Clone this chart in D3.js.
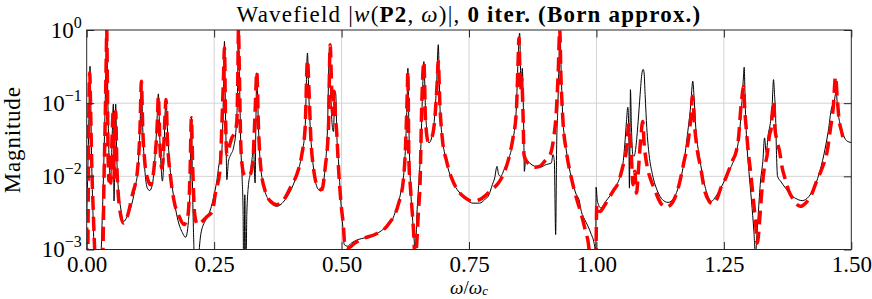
<!DOCTYPE html>
<html lang="en">
<head>
<meta charset="UTF-8">
<title>Wavefield |w(P2, ω)|, 0 iter. (Born approx.)</title>
<style>
  body { margin: 0; padding: 0; background: #fff; }
  svg { display: block; font-family: "Liberation Serif", "DejaVu Serif", serif; }
  .grid line { stroke: #d4d4d4; stroke-width: 1; }
  .axis .domain { display: none; }
  .axis line { stroke: #262626; stroke-width: 1; }
  .axis text { font-size: 23px; fill: #000; font-family: "Liberation Serif", serif; }
</style>
</head>
<body>
<script src="https://d3js.org/d3.v7.min.js"></script>
<script>
// tick values
const xTicks = [0, 0.25, 0.5, 0.75, 1.0, 1.25, 1.5];
const yTicks = [1e-3, 1e-2, 1e-1, 1];

// exact wavefield (black), omega / omega_c and magnitude
const omegaExact = [
  0.000, 0.0033, 0.0052, 0.0065, 0.0078, 0.0092, 0.0124, 0.0157, 0.0275, 0.0307,
  0.0340, 0.0373, 0.0392, 0.0419, 0.0445, 0.0471, 0.0497, 0.0523, 0.0536, 0.0556,
  0.0569, 0.0589, 0.0615, 0.0667, 0.0719, 0.0798, 0.0863, 0.0961, 0.1007, 0.1046,
  0.1073, 0.1099, 0.1138, 0.1190, 0.1236, 0.1288, 0.1334, 0.1373, 0.1406, 0.1432,
  0.1465, 0.1485, 0.1511, 0.1537, 0.1557, 0.1583, 0.1635, 0.1700, 0.1779, 0.1877,
  0.1942, 0.1995, 0.2027, 0.2054, 0.2073, 0.2093, 0.2112, 0.2184, 0.2237, 0.2335,
  0.2433, 0.2487, 0.2552, 0.2605, 0.2637, 0.2657, 0.2683, 0.2703, 0.2722, 0.2735,
  0.2749, 0.2781, 0.2827, 0.2879, 0.2932, 0.2958, 0.2977, 0.2997, 0.3023, 0.3049,
  0.3069, 0.3076, 0.3089, 0.3102, 0.3115, 0.3128, 0.3141, 0.3174, 0.3206, 0.3239,
  0.3272, 0.3304, 0.3318, 0.3337, 0.3370, 0.3403, 0.3468, 0.3566, 0.3730, 0.3893,
  0.4024, 0.4122, 0.4220, 0.4285, 0.4331, 0.4357, 0.4397, 0.4449, 0.4527, 0.4593,
  0.4678, 0.4724, 0.4763, 0.4789, 0.4815, 0.4841, 0.4868, 0.4887, 0.4907, 0.4940,
  0.4985, 0.5025, 0.5052, 0.5118, 0.5196, 0.5327, 0.5458, 0.5589, 0.5719, 0.5850,
  0.5981, 0.6079, 0.6177, 0.6230, 0.6262, 0.6288, 0.6301, 0.6321, 0.6347, 0.6387,
  0.6426, 0.6445, 0.6478, 0.6517, 0.6557, 0.6583, 0.6615, 0.6648, 0.6674, 0.6714,
  0.6766, 0.6818, 0.6864, 0.6897, 0.6929, 0.6975, 0.7027, 0.7106, 0.7191, 0.7289,
  0.7387, 0.7485, 0.7578, 0.7709, 0.7807, 0.7892, 0.7958, 0.8004, 0.8049, 0.8082,
  0.8121, 0.8200, 0.8285, 0.8350, 0.8396, 0.8429, 0.8461, 0.8494, 0.8520, 0.8546,
  0.8573, 0.8586, 0.8612, 0.8690, 0.8788, 0.8887, 0.9017, 0.9115, 0.9148, 0.9174,
  0.9200, 0.9220, 0.9240, 0.9266, 0.9285, 0.9312, 0.9344, 0.9377, 0.9442, 0.9527,
  0.9606, 0.9658, 0.9704, 0.9769, 0.9835, 0.9900, 0.9946, 0.9965, 0.9987, 0.9993,
  1.0020, 1.0085, 1.0183, 1.0281, 1.0379, 1.0445, 1.0510, 1.0556, 1.0589, 1.0615,
  1.0634, 1.0647, 1.0660, 1.0667, 1.0687, 1.0713, 1.0739, 1.0772, 1.0818, 1.0857,
  1.0889, 1.0916, 1.0935, 1.0955, 1.0988, 1.1033, 1.1099, 1.1197, 1.1295, 1.1406,
  1.1524, 1.1622, 1.1720, 1.1785, 1.1851, 1.1890, 1.1916, 1.1949, 1.2014, 1.2080,
  1.2178, 1.2256, 1.2341, 1.2439, 1.2538, 1.2631, 1.2729, 1.2794, 1.2847, 1.2879,
  1.2899, 1.2919, 1.2945, 1.2991, 1.3043, 1.3089, 1.3121, 1.3141, 1.3174, 1.3219,
  1.3265, 1.3298, 1.3331, 1.3370, 1.3416, 1.3448, 1.3474, 1.3494, 1.3514, 1.3533,
  1.3553, 1.3612, 1.3710, 1.3808, 1.3906, 1.4037, 1.4168, 1.4266, 1.4364, 1.4462,
  1.4547, 1.4613, 1.4659, 1.4704, 1.4730, 1.4769, 1.4822, 1.4887, 1.4953, 1.5000
];
const magExact = [
  0.0030, 0.027, 0.13, 0.32, 0.13, 0.027, 0.0030, 0.0008, 0.0008, 0.0030,
  0.0198, 0.22, 0.98, 0.077, 0.013, 0.0095, 0.030, 0.097, 0.0046, 0.046,
  0.097, 0.0198, 0.0077, 0.0037, 0.0024, 0.00285, 0.0037, 0.0077, 0.013, 0.046,
  0.19, 0.046, 0.013, 0.0069, 0.0064, 0.0077, 0.016, 0.046, 0.134, 0.037,
  0.0117, 0.0086, 0.016, 0.070, 0.112, 0.046, 0.013, 0.0056, 0.0027, 0.0017,
  0.00147, 0.0024, 0.0069, 0.064, 0.0095, 0.0020, 0.0008, 0.0008, 0.0016, 0.00256,
  0.0036, 0.0051, 0.0086, 0.0152, 0.0161, 0.027, 0.131, 0.70, 0.077, 0.027,
  0.0090, 0.0161, 0.0198, 0.0244, 0.046, 0.131, 0.98, 0.22, 0.027, 0.0095,
  0.0030, 0.0008, 0.0008, 0.0056, 0.0008, 0.0008, 0.0030, 0.0077, 0.0106, 0.0161,
  0.0239, 0.0081, 0.046, 0.26, 0.046, 0.0161, 0.0077, 0.0048, 0.0039, 0.0048,
  0.0069, 0.0106, 0.0198, 0.046, 0.485, 0.131, 0.0335, 0.013, 0.0069, 0.0063,
  0.013, 0.046, 0.57, 0.131, 0.051, 0.041, 0.145, 0.131, 0.037, 0.0161,
  0.0046, 0.0020, 0.00117, 0.00111, 0.00123, 0.00137, 0.00144, 0.00152, 0.00169, 0.00197,
  0.00243, 0.0037, 0.0069, 0.013, 0.0335, 0.131, 0.30, 0.046, 0.0095, 0.0030,
  0.0013, 0.0008, 0.0030, 0.0086, 0.027, 0.106, 0.37, 0.077, 0.041, 0.0286,
  0.0335, 0.056, 0.18, 0.63, 0.095, 0.0335, 0.0198, 0.0117, 0.0081, 0.0063,
  0.0053, 0.0046, 0.0043, 0.0043, 0.0048, 0.0056, 0.0077, 0.0095, 0.0137, 0.0106,
  0.0100, 0.013, 0.0178, 0.027, 0.046, 0.086, 0.37, 0.91, 0.161, 0.30,
  0.046, 0.0117, 0.0169, 0.0152, 0.0137, 0.0133, 0.0145, 0.0152, 0.0198, 0.0161,
  0.0016, 0.027, 0.077, 0.37, 0.96, 0.22, 0.056, 0.0335, 0.0161, 0.0086,
  0.0056, 0.0048, 0.0033, 0.00256, 0.00208, 0.0016, 0.0013, 0.00111, 0.0009, 0.0071,
  0.00456, 0.0037, 0.00456, 0.0056, 0.0073, 0.0090, 0.013, 0.027, 0.056, 0.088,
  0.046, 0.0069, 0.046, 0.153, 0.046, 0.0198, 0.0188, 0.0244, 0.056, 0.131,
  0.245, 0.29, 0.26, 0.131, 0.046, 0.0198, 0.0106, 0.0063, 0.0048, 0.0044,
  0.0051, 0.0077, 0.0161, 0.037, 0.095, 0.20, 0.118, 0.046, 0.0198, 0.0106,
  0.0056, 0.00456, 0.0053, 0.0069, 0.0095, 0.013, 0.0198, 0.0335, 0.086, 0.20,
  0.31, 0.095, 0.0335, 0.0117, 0.00456, 0.00178, 0.0008, 0.0013, 0.0030, 0.0086,
  0.0161, 0.0335, 0.021, 0.037, 0.056, 0.095, 0.21, 0.131, 0.070, 0.0198,
  0.0100, 0.0086, 0.0069, 0.0056, 0.0050, 0.00466, 0.0053, 0.0069, 0.0106, 0.0198,
  0.041, 0.086, 0.100, 0.145, 0.086, 0.056, 0.041, 0.0318, 0.0295, 0.029
];

// Born approximation (red dashed)
const omegaBorn = [
  0.000, 0.0020, 0.0039, 0.0059, 0.0078, 0.0098, 0.0131, 0.0170, 0.0314, 0.0340,
  0.0366, 0.0386, 0.0392, 0.0405, 0.0419, 0.0438, 0.0458, 0.0471, 0.0497, 0.0523,
  0.0536, 0.0556, 0.0569, 0.0589, 0.0608, 0.0641, 0.0719, 0.0798, 0.0896, 0.0994,
  0.1046, 0.1073, 0.1099, 0.1138, 0.1190, 0.1256, 0.1334, 0.1386, 0.1406, 0.1439,
  0.1471, 0.1504, 0.1537, 0.1557, 0.1583, 0.1648, 0.1714, 0.1812, 0.1910, 0.1988,
  0.2027, 0.2054, 0.2080, 0.2119, 0.2171, 0.2269, 0.2368, 0.2466, 0.2520, 0.2618,
  0.2650, 0.2683, 0.2703, 0.2722, 0.2749, 0.2788, 0.2847, 0.2912, 0.2945, 0.2964,
  0.2977, 0.2997, 0.3023, 0.3056, 0.3076, 0.3141, 0.3206, 0.3259, 0.3304, 0.3337,
  0.3370, 0.3416, 0.3501, 0.3599, 0.3730, 0.3893, 0.4024, 0.4122, 0.4220, 0.4285,
  0.4331, 0.4364, 0.4397, 0.4449, 0.4547, 0.4613, 0.4678, 0.4743, 0.4776, 0.4809,
  0.4828, 0.4854, 0.4874, 0.4907, 0.4940, 0.4985, 0.5038, 0.5065, 0.5131, 0.5262,
  0.5458, 0.5654, 0.5916, 0.6112, 0.6210, 0.6256, 0.6288, 0.6301, 0.6321, 0.6347,
  0.6380, 0.6412, 0.6439, 0.6478, 0.6504, 0.6543, 0.6570, 0.6615, 0.6648, 0.6700,
  0.6766, 0.6831, 0.6877, 0.6897, 0.6929, 0.6975, 0.7060, 0.7158, 0.7289, 0.7420,
  0.7564, 0.7709, 0.7840, 0.7919, 0.8102, 0.8200, 0.8298, 0.8363, 0.8429, 0.8461,
  0.8481, 0.8494, 0.8514, 0.8533, 0.8560, 0.8579, 0.8612, 0.8690, 0.8788, 0.8887,
  0.8985, 0.9070, 0.9115, 0.9161, 0.9213, 0.9253, 0.9279, 0.9305, 0.9344, 0.9410,
  0.9508, 0.9606, 0.9704, 0.9769, 0.9835, 0.9881, 0.9966, 0.9987, 1.0007, 1.0072,
  1.0150, 1.0249, 1.0347, 1.0412, 1.0477, 1.0543, 1.0576, 1.0608, 1.0634, 1.0660,
  1.0687, 1.0719, 1.0752, 1.0785, 1.0831, 1.0870, 1.0909, 1.0935, 1.0968, 1.1001,
  1.1066, 1.1131, 1.1262, 1.1360, 1.1458, 1.1622, 1.1720, 1.1799, 1.1851, 1.1884,
  1.1929, 1.1982, 1.2047, 1.2112, 1.2211, 1.2276, 1.2374, 1.2439, 1.2538, 1.2565,
  1.2664, 1.2742, 1.2794, 1.2827, 1.2860, 1.2886, 1.2912, 1.2938, 1.2977, 1.3023,
  1.3069, 1.3095, 1.3121, 1.3154, 1.3180, 1.3200, 1.3239, 1.3285, 1.3350, 1.3396,
  1.3429, 1.3448, 1.3481, 1.3501, 1.3546, 1.3592, 1.3645, 1.3697, 1.3775, 1.3841,
  1.3939, 1.4004, 1.4102, 1.4200, 1.4331, 1.4429, 1.4527, 1.4593, 1.4645, 1.4691,
  1.4724, 1.4756, 1.4809, 1.4855
];
const magBorn = [
  0.0020, 0.0008, 0.046, 0.26, 0.077, 0.0161, 0.0030, 0.0008, 0.0008, 0.0095,
  0.077, 0.57, 1.03, 0.22, 0.0198, 0.0086, 0.0117, 0.0081, 0.0335, 0.082,
  0.0095, 0.056, 0.077, 0.0161, 0.0077, 0.0039, 0.0023, 0.00285, 0.0056, 0.0117,
  0.046, 0.20, 0.046, 0.0161, 0.0095, 0.0077, 0.0161, 0.056, 0.124, 0.0244,
  0.013, 0.0198, 0.070, 0.112, 0.0335, 0.0095, 0.0046, 0.00285, 0.0022, 0.0030,
  0.0106, 0.063, 0.013, 0.0030, 0.0022, 0.00243, 0.00285, 0.0033, 0.0056, 0.013,
  0.046, 0.22, 0.57, 0.077, 0.0198, 0.0244, 0.0335, 0.041, 0.056, 0.22,
  1.03, 0.22, 0.027, 0.013, 0.011, 0.010, 0.0106, 0.0161, 0.077, 0.27,
  0.046, 0.013, 0.0063, 0.0046, 0.0041, 0.0051, 0.0077, 0.0106, 0.0198, 0.046,
  0.39, 0.131, 0.0335, 0.013, 0.0069, 0.0066, 0.013, 0.046, 0.63, 0.131,
  0.070, 0.145, 0.077, 0.037, 0.013, 0.0046, 0.0020, 0.0011, 0.00105, 0.00123,
  0.00144, 0.0016, 0.0022, 0.0041, 0.0086, 0.027, 0.131, 0.27, 0.0161, 0.0077,
  0.0037, 0.0018, 0.0008, 0.0013, 0.0030, 0.0095, 0.077, 0.37, 0.056, 0.030,
  0.0335, 0.063, 0.20, 0.37, 0.095, 0.0335, 0.0161, 0.0095, 0.0063, 0.0051,
  0.00456, 0.0048, 0.0056, 0.0063, 0.0086, 0.0117, 0.0198, 0.0335, 0.077, 0.34,
  0.78, 0.37, 0.145, 0.22, 0.070, 0.0198, 0.0169, 0.0145, 0.0133, 0.0137,
  0.0161, 0.0188, 0.022, 0.0335, 0.077, 0.30, 1.03, 0.22, 0.056, 0.022,
  0.0095, 0.0051, 0.0030, 0.0020, 0.0013, 0.0008, 0.0008, 0.0008, 0.0041, 0.0033,
  0.0039, 0.0051, 0.0066, 0.0077, 0.0106, 0.0161, 0.0198, 0.0335, 0.051, 0.0335,
  0.0178, 0.0077, 0.0117, 0.0059, 0.0145, 0.0335, 0.056, 0.0286, 0.0178, 0.013,
  0.0090, 0.0069, 0.0043, 0.0038, 0.0041, 0.0077, 0.0161, 0.030, 0.063, 0.124,
  0.046, 0.022, 0.013, 0.0069, 0.00456, 0.0042, 0.0051, 0.0069, 0.0095, 0.0106,
  0.0161, 0.022, 0.037, 0.077, 0.131, 0.17, 0.077, 0.046, 0.022, 0.0117,
  0.0056, 0.0037, 0.0024, 0.00123, 0.0016, 0.0024, 0.0056, 0.0117, 0.0198, 0.037,
  0.046, 0.070, 0.106, 0.046, 0.030, 0.022, 0.013, 0.0095, 0.0063, 0.0051,
  0.0041, 0.0039, 0.0043, 0.0053, 0.0090, 0.013, 0.022, 0.046, 0.086, 0.23,
  0.118, 0.063, 0.041, 0.030
];

const W = 872, H = 299;
const plot = { left: 86.7, right: 851.3, top: 30, bottom: 249.5 };

const svg = d3.select("body").append("svg")
  .attr("width", W)
  .attr("height", H);

const x = d3.scaleLinear().domain([0, 1.5]).range([plot.left, plot.right]);
const y = d3.scaleLog().domain([1e-3, 1]).range([plot.bottom, plot.top]);

// grid
const grid = svg.append("g").attr("class", "grid");
grid.selectAll(".gx").data(xTicks.slice(1, -1)).enter().append("line")
  .attr("x1", d => x(d)).attr("x2", d => x(d))
  .attr("y1", plot.top).attr("y2", plot.bottom);
grid.selectAll(".gy").data(yTicks.slice(1, -1)).enter().append("line")
  .attr("x1", plot.left).attr("x2", plot.right)
  .attr("y1", d => y(d)).attr("y2", d => y(d));

// curves, clipped to the axes box
svg.append("clipPath").attr("id", "clip")
  .append("rect")
  .attr("x", plot.left).attr("y", plot.top)
  .attr("width", plot.right - plot.left).attr("height", plot.bottom - plot.top);

const floor = 5e-4;
const line = d3.line()
  .x(d => x(d[0]))
  .y(d => y(Math.max(d[1], floor)))
  .curve(d3.curveMonotoneX);

const exact = omegaExact.map((w, i) => [w, magExact[i]]);
const born = omegaBorn.map((w, i) => [w, magBorn[i]]);

const curves = svg.append("g").attr("clip-path", "url(#clip)");
curves.append("path")
  .datum(exact)
  .attr("d", line)
  .attr("fill", "none")
  .attr("stroke", "#000")
  .attr("stroke-width", 1);
curves.append("path")
  .datum(born)
  .attr("d", line)
  .attr("fill", "none")
  .attr("stroke", "#ff0000")
  .attr("stroke-width", 3.5)
  .attr("stroke-dasharray", "14,7");

// axes with inward ticks
const tk = 7.5;
const xAxis = svg.append("g").attr("class", "axis")
  .attr("transform", "translate(0," + plot.bottom + ")")
  .call(d3.axisBottom(x).tickValues(xTicks).tickSize(-tk).tickFormat(d3.format(".2f")));
xAxis.selectAll("text").attr("y", 22.5).attr("dy", 0);

svg.append("g").attr("class", "axis")
  .attr("transform", "translate(0," + plot.top + ")")
  .call(d3.axisTop(x).tickValues(xTicks).tickSize(-tk).tickFormat(""));
svg.append("g").attr("class", "axis")
  .attr("transform", "translate(" + plot.left + ",0)")
  .call(d3.axisLeft(y).tickValues(yTicks).tickSize(-tk).tickFormat(""));
svg.append("g").attr("class", "axis")
  .attr("transform", "translate(" + plot.right + ",0)")
  .call(d3.axisRight(y).tickValues(yTicks).tickSize(-tk).tickFormat(""));

// y tick labels as 10^n
yTicks.forEach(d => {
  const n = Math.round(Math.log10(d));
  const t = svg.append("text")
    .attr("x", plot.left - 5)
    .attr("y", y(d) + 7.5)
    .attr("text-anchor", "end")
    .style("font-size", "23px");
  t.append("tspan").text("10");
  t.append("tspan").attr("dy", -10).style("font-size", "16px")
    .text(n < 0 ? "\u2212" + (-n) : String(n));
});

// box
svg.append("rect")
  .attr("x", plot.left).attr("y", plot.top)
  .attr("width", plot.right - plot.left).attr("height", plot.bottom - plot.top)
  .attr("fill", "none").attr("stroke", "#262626").attr("stroke-width", 1);

// title
const title = svg.append("text")
  .attr("x", (plot.left + plot.right) / 2)
  .attr("y", 22)
  .attr("text-anchor", "middle")
  .style("font-size", "23px")
  .style("letter-spacing", "1.2px");
title.append("tspan").text("Wavefield |");
title.append("tspan").style("font-style", "italic").text("w");
title.append("tspan").text("(");
title.append("tspan").style("font-weight", "bold").text("P2");
title.append("tspan").text(", ");
title.append("tspan").style("font-style", "italic").text("ω");
title.append("tspan").text(")|, ");
title.append("tspan").style("font-weight", "bold").text("0 iter. (Born approx.)");

// x label
const xl = svg.append("text")
  .attr("x", (plot.left + plot.right) / 2)
  .attr("y", 293.5)
  .attr("text-anchor", "middle")
  .style("font-size", "19px");
xl.append("tspan").style("font-style", "italic").text("ω");
xl.append("tspan").text("/");
xl.append("tspan").style("font-style", "italic").text("ω");
xl.append("tspan").style("font-style", "italic").style("font-size", "13px").attr("dy", 1).text("c");

// y label
svg.append("text")
  .attr("transform", "translate(20," + (plot.top + plot.bottom) / 2 + ") rotate(-90)")
  .attr("text-anchor", "middle")
  .style("font-size", "23px")
  .style("letter-spacing", "0.8px")
  .text("Magnitude");
</script>
</body>
</html>
